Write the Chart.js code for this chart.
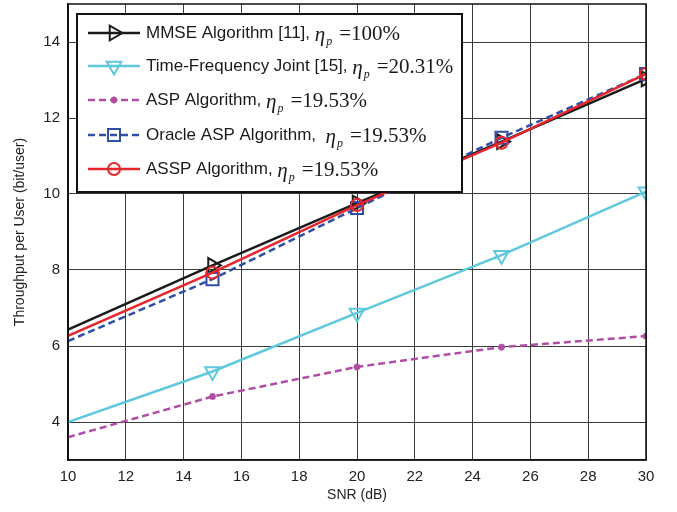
<!DOCTYPE html>
<html lang="en">
<head>
    <meta charset="UTF-8">
    <title>Throughput per User vs SNR</title>
    <script src="https://cdn.jsdelivr.net/npm/chart.js"></script>
    <style>
        body {
            margin: 0;
            background: #fff;
        }
        .chart-box {
            width: 677px;
            height: 512px;
            position: relative;
        }
    </style>
</head>
<body>

    <div class="chart-box">
        <canvas id="snrChart"></canvas>
    </div>

    <script>
        // Data
        const snr = [10, 15, 20, 25, 30];
        const mmse = [6.43, 8.12, 9.76, 11.38, 13.03];
        const tfJoint = [4.0, 5.33, 6.87, 8.39, 10.06];
        const asp = [3.6, 4.67, 5.45, 5.97, 6.26];
        const oracleAsp = [6.13, 7.76, 9.63, 11.48, 13.16];
        const assp = [6.27, 7.93, 9.71, 11.35, 13.16];

        const xTicks = [10, 12, 14, 16, 18, 20, 22, 24, 26, 28, 30];
        const yTicks = [4, 6, 8, 10, 12, 14];

        const names = [
            "MMSE Algorithm [11], ",
            "Time-Frequency Joint [15], ",
            "ASP Algorithm, ",
            "Oracle ASP Algorithm,  ",
            "ASSP Algorithm, "
        ];
        const etaValues = ["100%", "20.31%", "19.53%", "19.53%", "19.53%"];

        const noFirst = (r) => [0, r, r, r, r];

        const datasets = [
            {
                label: names[0], data: mmse, borderColor: "#1b1b1b",
                pointStyle: "triangle", pointRotation: 90, pointRadius: noFirst(8.5), dash: []
            },
            {
                label: names[1], data: tfJoint, borderColor: "#5ec8dc",
                pointStyle: "triangle", pointRotation: 180, pointRadius: noFirst(8.5), dash: []
            },
            {
                label: names[2], data: asp, borderColor: "#b04ea6",
                pointStyle: "star", pointRotation: 0, pointRadius: noFirst(3.5), dash: [7, 4]
            },
            {
                label: names[3], data: oracleAsp, borderColor: "#2f4fa6",
                pointStyle: "rect", pointRotation: 0, pointRadius: noFirst(8.5), dash: [7, 4]
            },
            {
                label: names[4], data: assp, borderColor: "#e8242c",
                pointStyle: "circle", pointRotation: 0, pointRadius: noFirst(6), dash: []
            }
        ].map((d, i) => ({
            label: d.label,
            data: snr.map((x, k) => ({ x: x, y: d.data[k] })),
            order: 4 - i, // later series sit on top, as in the figure
            borderColor: d.borderColor,
            pointBorderColor: d.borderColor,
            pointBackgroundColor: "rgba(0,0,0,0)",
            borderWidth: 2.5,
            pointBorderWidth: 2,
            borderDash: d.dash,
            pointStyle: d.pointStyle,
            pointRotation: d.pointRotation,
            pointRadius: d.pointRadius,
            fill: false,
            tension: 0
        }));

        // frame round the plot area + legend box, like the original figure
        const boxLegend = {
            id: "boxLegend",
            afterDraw(chart) {
                const ctx = chart.ctx;
                const a = chart.chartArea;
                ctx.save();
                ctx.strokeStyle = "#111";
                ctx.lineWidth = 1.5;
                ctx.strokeRect(a.left, a.top, a.right - a.left, a.bottom - a.top);

                const left = 77, top = 14, w = 385, h = 178;
                ctx.fillStyle = "#fff";
                ctx.fillRect(left, top, w, h);
                ctx.lineWidth = 2;
                ctx.strokeRect(left, top, w, h);

                const rowsY = [33, 66, 100, 135, 169];
                chart.data.datasets.forEach((ds, i) => {
                    const y = rowsY[i];
                    ctx.strokeStyle = ds.borderColor;
                    ctx.lineWidth = 2.5;
                    ctx.setLineDash(ds.borderDash);
                    ctx.beginPath();
                    ctx.moveTo(88, y);
                    ctx.lineTo(140, y);
                    ctx.stroke();
                    ctx.setLineDash([]);
                    ctx.lineWidth = 2;
                    ctx.fillStyle = "rgba(0,0,0,0)";
                    Chart.helpers.drawPoint(ctx, {
                        pointStyle: ds.pointStyle,
                        rotation: ds.pointRotation,
                        radius: ds.pointRadius[1],
                        borderWidth: 2
                    }, 114, y);

                    ctx.fillStyle = "#1a1a1a";
                    ctx.textBaseline = "middle";
                    ctx.font = '17px "Liberation Sans", Arial, sans-serif';
                    let x = 146;
                    ctx.fillText(ds.label, x, y);
                    x += ctx.measureText(ds.label).width;
                    ctx.font = 'italic 21px "Liberation Serif", "Times New Roman", serif';
                    ctx.fillText("\u03b7", x, y + 2);
                    x += ctx.measureText("\u03b7").width + 1;
                    ctx.font = 'italic 12px "Liberation Serif", "Times New Roman", serif';
                    ctx.fillText("p", x, y + 9);
                    x += ctx.measureText("p").width + 7;
                    ctx.font = '21px "Liberation Serif", "Times New Roman", serif';
                    ctx.fillText("=" + etaValues[i], x, y + 1);
                });
                ctx.restore();
            }
        };

        const tickFont = { family: '"Liberation Sans", Arial, sans-serif', size: 15 };
        const titleFont = { family: '"Liberation Sans", Arial, sans-serif', size: 14 };

        const ctx = document.getElementById("snrChart").getContext("2d");
        new Chart(ctx, {
            type: "line",
            data: { datasets: datasets },
            options: {
                responsive: true,
                maintainAspectRatio: false,
                animation: false,
                layout: { autoPadding: false, padding: { top: 4, right: 31, bottom: 4, left: 0 } },
                plugins: {
                    legend: { display: false },
                    tooltip: { enabled: false }
                },
                scales: {
                    x: {
                        type: "linear",
                        min: 10,
                        max: 30,
                        afterBuildTicks: (s) => { s.ticks = xTicks.map(v => ({ value: v })); },
                        afterFit: (s) => { s.height = 48; s.paddingLeft = 0; s.paddingRight = 0; },
                        grid: { color: "#3a3a3a", lineWidth: 1, drawTicks: false },
                        border: { color: "#111", width: 1.5 },
                        ticks: { color: "#222", font: tickFont, padding: 8 },
                        title: {
                            display: true,
                            text: "SNR (dB)",
                            color: "#222",
                            font: titleFont,
                            padding: { top: 2 }
                        }
                    },
                    y: {
                        min: 3,
                        max: 15,
                        afterBuildTicks: (s) => { s.ticks = yTicks.map(v => ({ value: v })); },
                        afterFit: (s) => { s.width = 68; s.paddingTop = 0; s.paddingBottom = 0; },
                        grid: { color: "#3a3a3a", lineWidth: 1, drawTicks: false },
                        border: { color: "#111", width: 1.5 },
                        ticks: { color: "#222", font: tickFont, padding: 8 },
                        title: {
                            display: true,
                            text: "Throughput per User (bit/user)",
                            color: "#222",
                            font: titleFont,
                            padding: { top: 12, bottom: 4 }
                        }
                    }
                }
            },
            plugins: [boxLegend]
        });
    </script>

</body>
</html>
